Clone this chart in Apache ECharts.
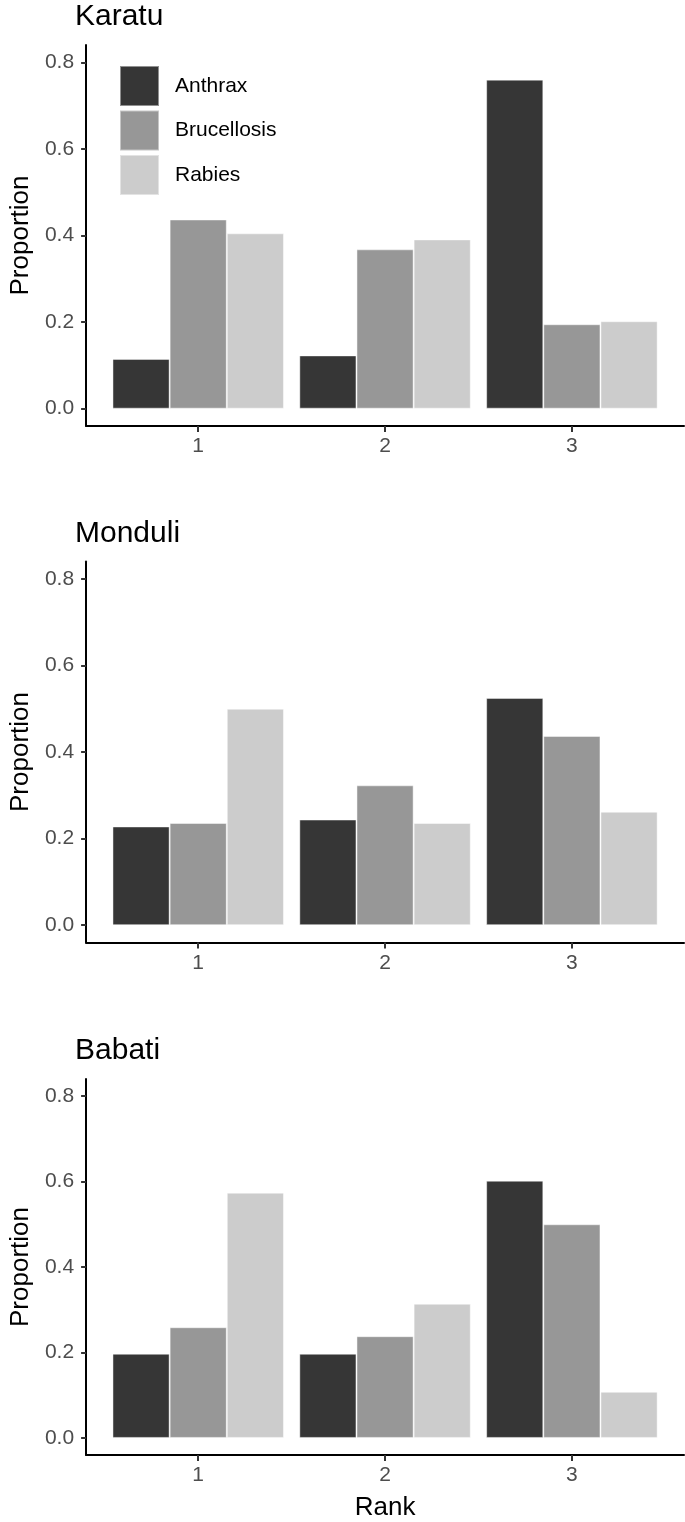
<!DOCTYPE html>
<html>
<head>
<meta charset="utf-8">
<script src="https://cdn.jsdelivr.net/npm/echarts@6/dist/echarts.min.js"></script>
<style>
html,body{margin:0;padding:0;background:#fff;}
#chart{width:685px;height:1522px;}
</style>
</head>
<body>
<div id="chart"></div>
<script>
// ---- data ----
const categories = ['1', '2', '3'];
const diseases = ['Anthrax', 'Brucellosis', 'Rabies'];
const districts = ['Karatu', 'Monduli', 'Babati'];
const yTicks = [0, 0.2, 0.4, 0.6, 0.8];

const karatuAnthrax = [0.115, 0.123, 0.760];
const karatuBrucellosis = [0.437, 0.368, 0.195];
const karatuRabies = [0.405, 0.391, 0.202];

const monduliAnthrax = [0.228, 0.244, 0.525];
const monduliBrucellosis = [0.236, 0.323, 0.437];
const monduliRabies = [0.500, 0.236, 0.262];

const babatiAnthrax = [0.197, 0.197, 0.602];
const babatiBrucellosis = [0.259, 0.238, 0.500];
const babatiRabies = [0.574, 0.314, 0.108];

const panelValues = [
  [karatuAnthrax, karatuBrucellosis, karatuRabies],
  [monduliAnthrax, monduliBrucellosis, monduliRabies],
  [babatiAnthrax, babatiBrucellosis, babatiRabies]
];

// ---- styling / layout ----
const colors = ['#363636', '#979797', '#cccccc'];
const FONT = 'Liberation Sans, Arial, Helvetica, sans-serif';
const gridTops = [45, 561.5, 1079];
const gridLeft = 76.5;
const gridWidth = 607.5;
const gridHeight = 381;
const catPos = categories.map((c, i) => i + 1);

const grids = [], xAxes = [], yAxes = [], titles = [], series = [];
districts.forEach((d, p) => {
  grids.push({left: gridLeft, top: gridTops[p], width: gridWidth, height: gridHeight, containLabel: false});
  titles.push({
    text: d, left: 75, top: gridTops[p] - 43, padding: 0,
    textStyle: {fontFamily: FONT, fontSize: 30, fontWeight: 'normal', color: '#000'}
  });
  xAxes.push({
    type: 'value', gridIndex: p, min: 0.4, max: 3.6,
    splitLine: {show: false},
    axisLine: {show: true, onZero: false, lineStyle: {color: '#000', width: 2}},
    axisTick: {show: true, customValues: catPos, length: 6, lineStyle: {color: '#333', width: 2}},
    axisLabel: {show: true, customValues: catPos, formatter: v => categories[Math.round(v) - 1],
      fontFamily: FONT, fontSize: 21, color: '#4d4d4d', margin: 10},
    name: p === 2 ? 'Rank' : '', nameLocation: 'middle', nameGap: 40,
    nameTextStyle: {fontFamily: FONT, fontSize: 26, color: '#000'}
  });
  yAxes.push({
    type: 'value', gridIndex: p, min: -0.04, max: 0.84,
    splitLine: {show: false},
    axisLine: {show: true, onZero: false, lineStyle: {color: '#000', width: 2}},
    axisTick: {show: true, customValues: yTicks, length: 5, lineStyle: {color: '#333', width: 2}},
    axisLabel: {show: true, customValues: yTicks, formatter: v => v.toFixed(1),
      fontFamily: FONT, fontSize: 21, color: '#4d4d4d', margin: 12},
    name: 'Proportion', nameLocation: 'middle', nameGap: 51,
    nameTextStyle: {fontFamily: FONT, fontSize: 26, color: '#000'}
  });
  diseases.forEach((dis, k) => {
    series.push({
      type: 'bar', name: dis, xAxisIndex: p, yAxisIndex: p,
      barWidth: 57.15, barGap: '0%',
      itemStyle: {color: colors[k], borderColor: 'rgba(255,255,255,0.45)', borderWidth: 1},
      data: panelValues[p][k].map((v, i) => [catPos[i], v]),
      silent: true, animation: false
    });
  });
});

const chart = echarts.init(document.getElementById('chart'), null, {renderer: 'canvas'});
chart.setOption({
  backgroundColor: '#fff',
  animation: false,
  title: titles,
  grid: grids,
  xAxis: xAxes,
  yAxis: yAxes,
  legend: {
    data: diseases, orient: 'vertical', left: 119, top: 65, padding: 0,
    icon: 'rect', itemWidth: 39, itemHeight: 40, itemGap: 2.5,
    textStyle: {fontFamily: FONT, fontSize: 21, color: '#000', padding: [0, 0, 0, 11]}
  },
  series: series
});
</script>
</body>
</html>
